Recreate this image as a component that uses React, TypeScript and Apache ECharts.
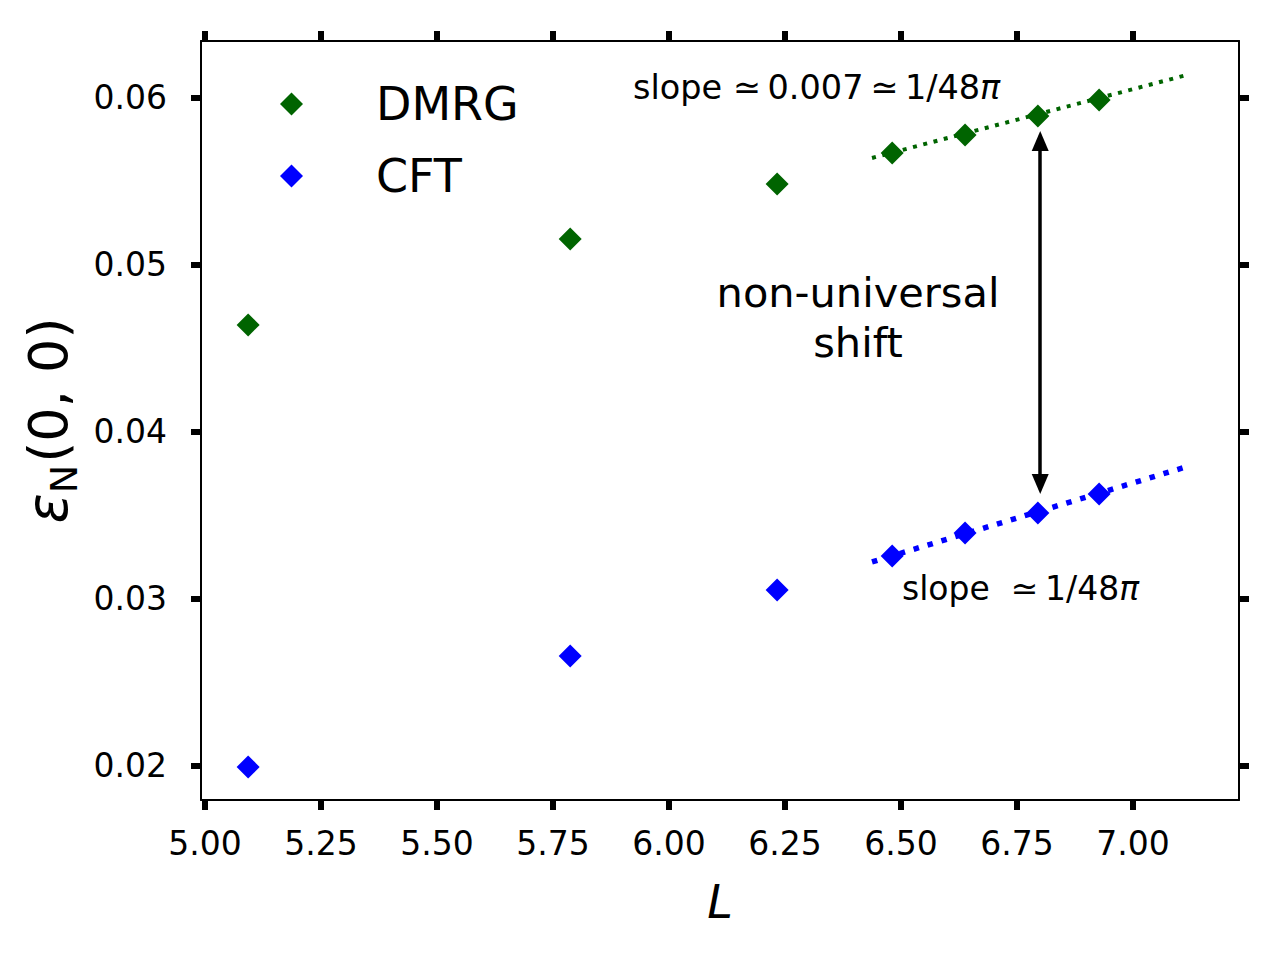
import React, { useEffect, useRef } from "react";
import * as echarts from "echarts";

const L = [5.093, 5.787, 6.233, 6.481, 6.638, 6.795, 6.927];
const dmrg = [0.04641, 0.05156, 0.05485, 0.0567, 0.05778, 0.05892, 0.05988];
const cft = [0.01994, 0.02659, 0.03054, 0.03257, 0.03395, 0.03515, 0.03629];

const fitDmrgX = [6.4375, 7.116];
const fitDmrgY = [0.05641, 0.06138];
const fitCftX = [6.4375, 7.12];
const fitCftY = [0.03222, 0.03796];

const xTicks = [5.0, 5.25, 5.5, 5.75, 6.0, 6.25, 6.5, 6.75, 7.0];
const yTicks = [0.02, 0.03, 0.04, 0.05, 0.06];

const arrowX = 6.8;
const arrowTop = 0.057425;
const arrowBottom = 0.036886;

const FONT = "DejaVu Sans";
const GREEN = "#006400";
const BLUE = "#0000ff";
const TICK_LEN = 10;
const TICK_W = 6;

function line() {
  return { show: true, onZero: false, lineStyle: { color: "#000", width: 2 } };
}

export default function App() {
  const ref = useRef<HTMLDivElement>(null);
  useEffect(() => {
    if (!ref.current) return;
    const chart = echarts.init(ref.current, undefined, { renderer: "svg" });
    const xMin = 4.9914,
      xMax = 7.2284,
      yMin = 0.017964,
      yMax = 0.063413;
    const tickLine = (x1: number, y1: number, x2: number, y2: number) => ({
      type: "line",
      shape: { x1, y1, x2, y2 },
      style: { stroke: "#000", lineWidth: TICK_W },
    });
    chart.setOption({
      animation: false,
      backgroundColor: "#fff",
      textStyle: { fontFamily: FONT },
      grid: { left: 201, top: 41, width: 1038, height: 759, containLabel: false },
      legend: {
        data: ["DMRG", "CFT"],
        orient: "vertical",
        left: 275,
        top: 76,
        itemWidth: 23,
        itemHeight: 23,
        itemGap: 26,
        icon: "diamond",
        textStyle: { fontSize: 46, color: "#000", fontFamily: FONT, padding: [0, 0, 0, 68] },
      },
      xAxis: [
        {
          type: "value",
          min: xMin,
          max: xMax,
          position: "bottom",
          axisLine: line(),
          axisTick: { show: false },
          axisLabel: {
            customValues: xTicks,
            formatter: (v: number) => v.toFixed(2),
            fontSize: 33,
            color: "#000",
            margin: 27,
            fontFamily: FONT,
          },
          splitLine: { show: false },
          name: "L",
          nameLocation: "middle",
          nameGap: 79,
          nameTextStyle: { fontSize: 46, fontStyle: "italic", color: "#000", fontFamily: FONT },
        },
        {
          type: "value",
          min: xMin,
          max: xMax,
          position: "top",
          axisLine: line(),
          axisTick: { show: false },
          axisLabel: { show: false },
          splitLine: { show: false },
        },
      ],
      yAxis: [
        {
          type: "value",
          min: yMin,
          max: yMax,
          position: "left",
          axisLine: line(),
          axisTick: { show: false },
          axisLabel: {
            customValues: yTicks,
            formatter: (v: number) => v.toFixed(2),
            fontSize: 33,
            color: "#000",
            margin: 34,
            fontFamily: FONT,
          },
          splitLine: { show: false },
          name: "{e|ε}{s|N}{p|(0, 0)}",
          nameLocation: "middle",
          nameRotate: 90,
          nameGap: 120,
          nameTextStyle: {
            color: "#000",
            fontFamily: FONT,
            rich: {
              e: { fontSize: 56, fontStyle: "italic", color: "#000", fontFamily: FONT, verticalAlign: "bottom" },
              s: { fontSize: 38, color: "#000", fontFamily: FONT, verticalAlign: "bottom", padding: [0, 2, -7, 0] },
              p: { fontSize: 54, color: "#000", fontFamily: FONT, verticalAlign: "bottom" },
            },
          },
        },
        {
          type: "value",
          min: yMin,
          max: yMax,
          position: "right",
          axisLine: line(),
          axisTick: { show: false },
          axisLabel: { show: false },
          splitLine: { show: false },
        },
      ],
      series: [
        {
          name: "xTicks",
          type: "custom",
          silent: true,
          clip: false,
          z: 5,
          data: xTicks.map((v) => [v, yMin]),
          encode: { x: 0, y: 1 },
          renderItem: (params: any, api: any) => {
            const p = api.coord([api.value(0), api.value(1)]);
            const cs = params.coordSys;
            const top = cs.y;
            const bottom = cs.y + cs.height;
            return {
              type: "group",
              children: [
                tickLine(p[0], bottom, p[0], bottom + TICK_LEN),
                tickLine(p[0], top, p[0], top - TICK_LEN),
              ],
            };
          },
        },
        {
          name: "yTicks",
          type: "custom",
          silent: true,
          clip: false,
          z: 5,
          data: yTicks.map((v) => [xMin, v]),
          encode: { x: 0, y: 1 },
          renderItem: (params: any, api: any) => {
            const p = api.coord([api.value(0), api.value(1)]);
            const cs = params.coordSys;
            const left = cs.x;
            const right = cs.x + cs.width;
            return {
              type: "group",
              children: [
                tickLine(left, p[1], left - TICK_LEN, p[1]),
                tickLine(right, p[1], right + TICK_LEN, p[1]),
              ],
            };
          },
        },
        {
          name: "fitDMRG",
          type: "line",
          data: fitDmrgX.map((x, i) => [x, fitDmrgY[i]]),
          showSymbol: false,
          symbol: "none",
          lineStyle: { color: GREEN, width: 4, type: [4, 6.6] },
          z: 2,
          silent: true,
        },
        {
          name: "fitCFT",
          type: "line",
          data: fitCftX.map((x, i) => [x, fitCftY[i]]),
          showSymbol: false,
          symbol: "none",
          lineStyle: { color: BLUE, width: 5.5, type: [5.5, 9] },
          z: 2,
          silent: true,
        },
        {
          name: "DMRG",
          type: "scatter",
          data: L.map((x, i) => [x, dmrg[i]]),
          symbol: "diamond",
          symbolSize: 23,
          itemStyle: { color: GREEN, opacity: 1 },
          z: 3,
        },
        {
          name: "CFT",
          type: "scatter",
          data: L.map((x, i) => [x, cft[i]]),
          symbol: "diamond",
          symbolSize: 23,
          itemStyle: { color: BLUE, opacity: 1 },
          z: 3,
        },
        {
          name: "arrow",
          type: "line",
          data: [],
          markLine: {
            silent: true,
            symbol: ["triangle", "triangle"],
            symbolSize: [17, 20],
            label: { show: false },
            lineStyle: { color: "#000", width: 3.5, type: "solid" },
            data: [[{ coord: [arrowX, arrowTop] }, { coord: [arrowX, arrowBottom] }]],
          },
        },
      ],
      graphic: [
        {
          type: "text",
          x: 633,
          y: 87,
          style: {
            text: "{a|slope ≃\u20090.007\u2009≃\u20091/48}{b|π}",
            align: "left",
            verticalAlign: "middle",
            rich: {
              a: { fontSize: 33.5, fontFamily: FONT, fill: "#000" },
              b: { fontSize: 33.5, fontFamily: FONT, fontStyle: "italic", fill: "#000" },
            },
          },
        },
        {
          type: "text",
          x: 902,
          y: 588,
          style: {
            text: "{a|slope  ≃\u20091/48}{b|π}",
            align: "left",
            verticalAlign: "middle",
            rich: {
              a: { fontSize: 33, fontFamily: FONT, fill: "#000" },
              b: { fontSize: 33, fontFamily: FONT, fontStyle: "italic", fill: "#000" },
            },
          },
        },
        {
          type: "text",
          x: 858,
          y: 317,
          style: {
            text: "non-universal\nshift",
            align: "center",
            verticalAlign: "middle",
            fontSize: 41.5,
            lineHeight: 50,
            fontFamily: FONT,
            fill: "#000",
          },
        },
      ],
    });
    return () => chart.dispose();
  }, []);
  return <div ref={ref} style={{ width: 1280, height: 960, margin: -8 }} />;
}
